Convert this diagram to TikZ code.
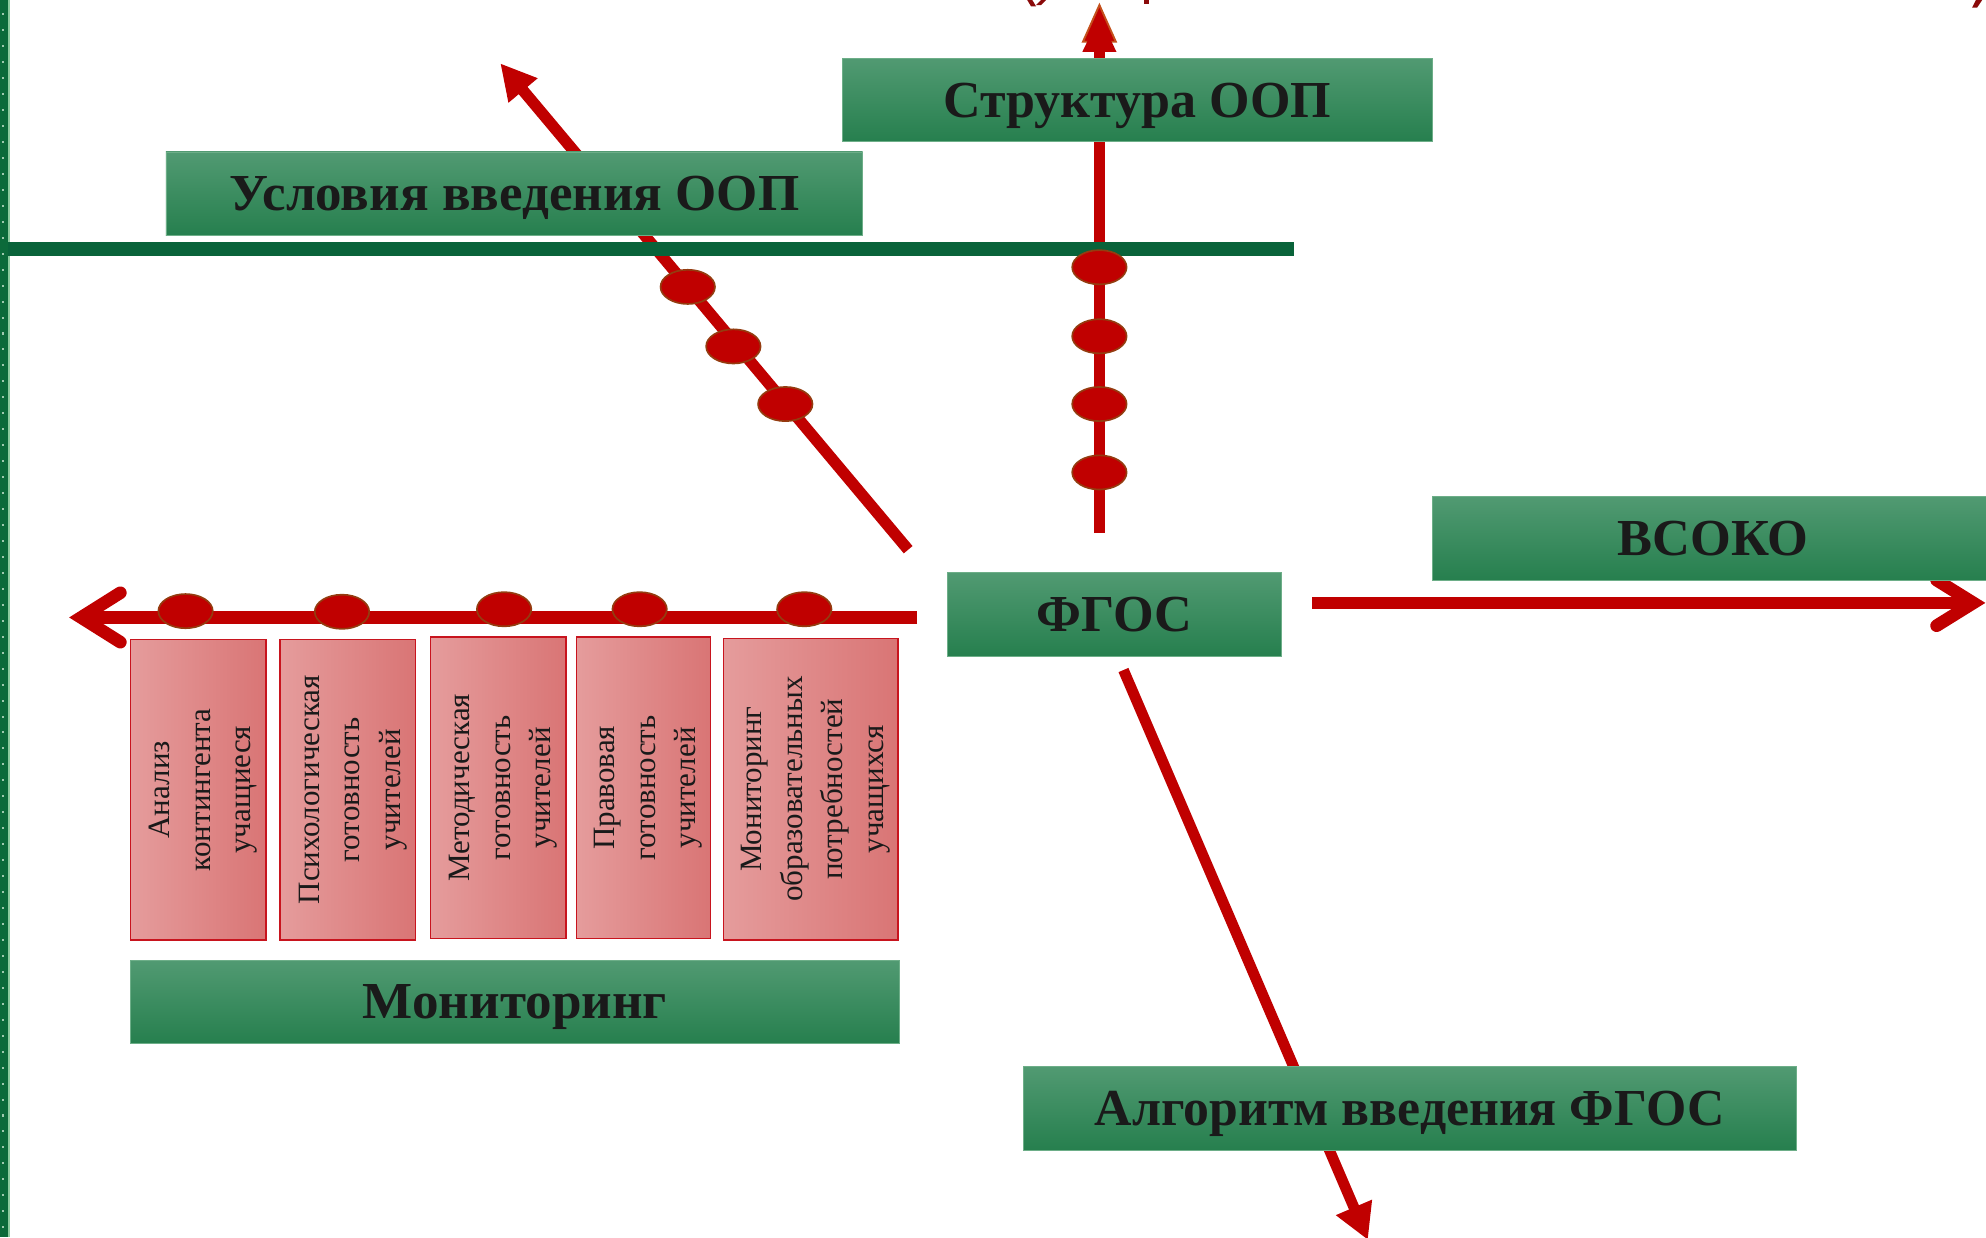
\documentclass[tikz,border=0pt]{standalone}
\usepackage{fontspec}
\setmainfont{Liberation Serif}
\usepackage{graphicx}
\usetikzlibrary{arrows.meta,shapes.geometric}
\definecolor{gtop}{HTML}{519A72}
\definecolor{gbot}{HTML}{267F4E}
\definecolor{gedge}{HTML}{6DAE88}
\definecolor{txt}{HTML}{1A1A1A}
\definecolor{red0}{HTML}{C00000}
\definecolor{dred}{HTML}{8A0A0A}
\definecolor{ebrd}{HTML}{943C10}
\definecolor{orng}{HTML}{C4501C}
\definecolor{hgreen}{HTML}{09633A}
\definecolor{vgreen}{HTML}{0C6A3A}
\definecolor{vedge}{HTML}{8CCB9E}
\definecolor{dotc}{HTML}{9FC9AE}
\definecolor{rleft}{HTML}{E59C9C}
\definecolor{rright}{HTML}{D97575}
\definecolor{rbrd}{HTML}{C8141E}
\newcommand{\gtxt}[2]{\resizebox{#1}{\height}{\fontsize{41}{41}\selectfont\bfseries #2}}
\begin{document}
\begin{tikzpicture}[x=1pt,y=-1pt,
  gbox/.style={rectangle, draw=gedge, line width=0.6pt, top color=gtop, bottom color=gbot, minimum height=66pt, inner sep=0pt},
  glabel/.style={text=txt, inner sep=0pt, text height=27pt, text depth=0pt},
  rbox/.style={rectangle, draw=rbrd, line width=1.1pt, left color=rleft, right color=rright, inner sep=0pt},
  rlabel/.style={rotate=90, align=center, text=txt, font=\fontsize{24.5}{32}\selectfont, inner sep=0pt},
  bead/.style={ellipse, fill=red0, draw=ebrd, line width=1.3pt, minimum width=43pt, minimum height=27pt, inner sep=0pt},
  rline/.style={draw=red0, line width=9pt},
]
\useasboundingbox (0,0) rectangle (1568,977);
\fill[white] (0,0) rectangle (1568,977);

% cut-off title fragments at the top edge
\fill[dred] (811,0) -- (815,0) -- (818,5) -- (814,5) -- cycle;
\fill[dred] (822,0) -- (826,0) -- (822,4) -- (818,4) -- cycle;
\fill[dred] (903.5,0) rectangle (907,3);
\fill[dred] (1560,0) -- (1565,0) -- (1561,6) -- (1557,6) -- cycle;

% left dotted green border
\fill[vgreen] (0,0) rectangle (6,977);
\fill[vedge] (6,0) rectangle (7.6,977);
\foreach \i in {0,...,77} \fill[dotc] (1.9,{10.5+\i*12.6}) rectangle ++(1.6,1.6);

% coordinates
\coordinate (uA) at (717,434);
\coordinate (uB) at (395,50);
\coordinate (vA) at (868,421);
\coordinate (vB) at (868,38);
\coordinate (dA) at (887,529);
\coordinate (dB) at (1080,979);
\coordinate (lA) at (724,487.5);
\coordinate (lB) at (64,487.5);
\coordinate (rA) at (1036,476);
\coordinate (rB) at (1558,476);

% red connectors
\draw[rline, -{Triangle[length=28pt,width=28pt]}] (uA) -- (uB);
\draw[rline] (vA) -- (vB);
\filldraw[fill=red0, draw=orng, line width=1.5pt] (868,4) -- (881,33) -- (855,33) -- cycle;
\fill[red0] (868,13) -- (881.5,41) -- (854.5,41) -- cycle;
\draw[rline, line width=8.5pt, -{Triangle[length=28pt,width=29pt]}] (dA) -- (dB);
\draw[rline, line width=10pt] (lA) -- (lB);
\draw[rline, line width=10pt, line cap=round, line join=miter] (95,468) -- (lB) -- (95,507);
\draw[rline, line width=10pt] (rA) -- (rB);
\draw[rline, line width=10pt, line cap=round, line join=miter] (1529,458) -- (rB) -- (1529,494);

% horizontal dark green line
\fill[hgreen] (6,191) rectangle (1022,202);

% beads
\node[bead] (u1) at (543,226.5) {};
\node[bead] (u2) at (579,273.5) {};
\node[bead] (u3) at (620,319) {};
\node[bead] (v1) at (868,211) {};
\node[bead] (v2) at (868,265.5) {};
\node[bead] (v3) at (868,319) {};
\node[bead] (v4) at (868,373) {};
\node[bead] (l1) at (146.5,482.5) {};
\node[bead] (l2) at (270,483) {};
\node[bead] (l3) at (398,481) {};
\node[bead] (l4) at (505,481) {};
\node[bead] (l5) at (635,481) {};

% green boxes
\node[gbox, minimum width=466pt] (struct) at (898,79) {};
\node[glabel] at (struct.center) {\gtxt{306pt}{Структура ООП}};
\node[gbox, minimum width=550pt] (usl) at (406,153) {};
\node[glabel] at (usl.center) {\gtxt{450pt}{Условия введения ООП}};
\node[gbox, minimum width=460pt] (vsoko) at (1361,425) {};
\node[glabel] at (1352.5,425) {\gtxt{151pt}{ВСОКО}};
\node[gbox, minimum width=264pt] (fgos) at (880,485) {};
\node[glabel] at (fgos.center) {\gtxt{123pt}{ФГОС}};
\node[gbox, minimum width=607pt] (monit) at (406.5,791) {};
\node[glabel] at (monit.center) {\gtxt{240pt}{Мониторинг}};
\node[gbox, minimum width=610pt] (algo) at (1113,875) {};
\node[glabel] at (algo.center) {\gtxt{497pt}{Алгоритм введения ФГОС}};

% red boxes
\node[rbox, minimum width=107pt, minimum height=237pt] (r1) at (156.5,623.5) {};
\node[rlabel] at ([xshift=4pt]r1.center) {Анализ\\контингента\\учащиеся};
\node[rbox, minimum width=107pt, minimum height=237pt] (r2) at (274.5,623.5) {};
\node[rlabel] at ([xshift=4pt]r2.center) {Психологическая\\готовность\\учителей};
\node[rbox, minimum width=107pt, minimum height=238pt] (r3) at (393.5,622) {};
\node[rlabel] at ([xshift=4pt]r3.center) {Методическая\\готовность\\учителей};
\node[rbox, minimum width=106pt, minimum height=238pt] (r4) at (508,622) {};
\node[rlabel] at ([xshift=4pt]r4.center) {Правовая\\готовность\\учителей};
\node[rbox, minimum width=138pt, minimum height=238pt] (r5) at (640,623) {};
\node[rlabel] at ([xshift=4pt]r5.center) {Мониторинг\\образовательных\\потребностей\\учащихся};
\end{tikzpicture}
\end{document}
